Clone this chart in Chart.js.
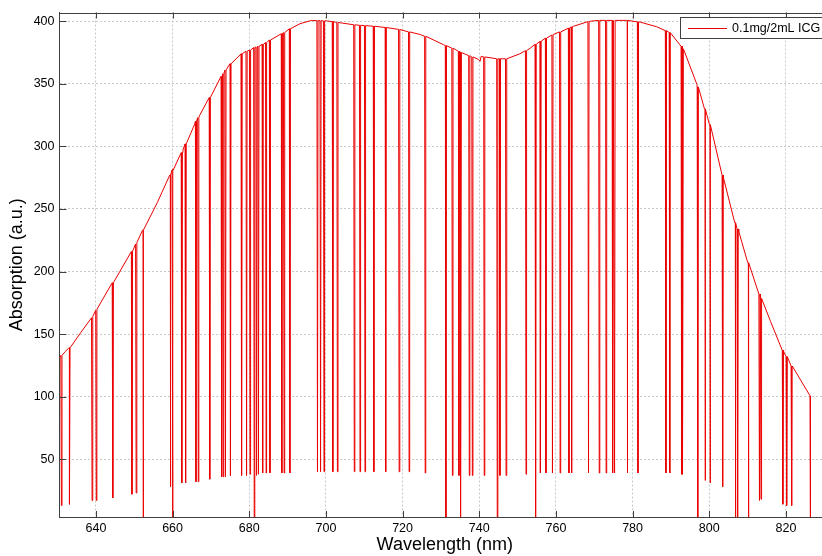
<!DOCTYPE html>
<html>
<head>
<meta charset="utf-8">
<title>ICG absorption</title>
<script src="https://cdn.jsdelivr.net/npm/chart.js@4"></script>
<style>
  html, body { margin: 0; padding: 0; background: #fff; overflow: hidden; }
  #wrap { position: relative; width: 832px; height: 556px; }
</style>
</head>
<body>
<div id="wrap"><canvas id="myChart"></canvas></div>
<script>
const legendLabel = "0.1mg/2mL ICG";

// smooth absorption curve (nm, a.u.)
const envWl = [630.5, 632, 633.1, 636, 639.2, 640.3, 644.4, 649.4, 650.7, 652.3, 656, 659.4, 660.1, 662.7,
  665.8, 667.1, 669.7, 672.8, 675, 677.6, 681, 684.5, 688.9, 693.2, 696, 700.2, 703.7, 708, 714.1, 719.3,
  724.6, 730.6, 735, 739.8, 740.2, 740.5, 744.6, 747.2, 750.6, 753.3, 755.9, 759.3, 764.6, 768.9, 771.5,
  778.6, 782, 786.3, 789.8, 792.8, 796.8, 798.9, 800.2, 803.7, 806.8, 807.7, 810.2, 813.3, 816, 819.4,
  820.7, 821.6, 826.3, 826.4];
const envAbs = [131, 136, 139, 151, 164, 170, 191, 216, 223, 233, 255, 277, 282, 297,
  318, 325, 339, 356, 366, 373, 378.5, 383, 391, 398, 400.5, 400.3, 398.8, 397, 395.5, 393.4,
  389.4, 381.4, 375.5, 369.5, 368, 372, 370, 370, 374, 378.5, 384, 389.4, 396, 400, 400.7,
  400.7, 399.3, 395.6, 391, 380, 349.4, 330, 317.4, 275, 239, 232, 207, 180, 160, 136,
  129.4, 124, 100.6, 0];

// dropouts: wavelength, value just before the drop, value at the bottom
const dropWl = [631.0, 633.1, 639.0, 640.1, 644.4, 649.4, 650.5, 652.3, 659.4, 660.0, 662.4, 663.4, 666.1,
  666.7, 669.7, 672.8, 673.2, 673.8, 675.1, 678.0, 679.3, 680.2, 681.3, 681.9, 682.4, 683.5, 684.4, 685.4,
  688.5, 689.1, 690.6, 697.8, 698.6, 699.5, 701.8, 703.0, 707.4, 708.9, 710.2, 712.5, 715.6, 719.1, 721.7,
  725.9, 731.3, 733.0, 734.7, 735.2, 737.4, 738.2, 741.3, 744.7, 745.4, 747.0, 752.2, 754.7, 756.0, 757.4,
  759.1, 761.1, 763.4, 764.1, 768.5, 771.3, 773.1, 774.8, 775.3, 778.6, 781.4, 788.7, 789.7, 792.8, 793.1,
  797.0, 798.9, 800.2, 803.5, 806.8, 807.4, 810.2, 813.1, 813.5, 819.2, 820.2, 821.5];
const dropTop = [133, 139, 163, 169, 191, 216, 222, 233, 277, 281, 295, 302, 320,
  323, 339, 356, 358, 361, 366, 374, 376, 377, 379, 379.5, 380, 381.5, 383, 385,
  390, 391, 394, 400.5, 400.5, 400.3, 399.7, 399, 397.2, 396.8, 396.5, 396, 395, 393.5, 391.5,
  388, 380.5, 378.5, 376, 375, 372.5, 371.5, 371.5, 370, 370, 370, 376.5, 381.5, 384, 386.5,
  389, 391.5, 394.5, 395.5, 399.7, 400.7, 400.7, 400.7, 400.7, 400.7, 399.5, 392.5, 391, 380, 378,
  347.5, 330, 317.4, 277, 239, 234, 207, 182, 178.5, 137, 132, 124.5];
const dropLow = [13, 14, 17, 17, 19, 22, 23, 0, 28, 0, 31, 31, 32,
  32, 34, 36, 36, 36, 37, 37, 37, 38, 3, 37, 38, 39, 39, 39,
  39, 39, 39, 40, 40, 40, 40, 40, 40, 40, 40, 40, 40, 40, 40,
  39, 0, 37, 37, 0, 37, 37, 37, 0, 37, 37, 38, 0, 39, 39,
  39, 39, 39, 39, 39, 39, 39, 39, 39, 39, 39, 39, 39, 38, 38,
  0, 33, 31, 28, 0, 0, 0, 17, 18, 14, 13, 13];

const xTicks = [640, 660, 680, 700, 720, 740, 760, 780, 800, 820];
const yTicks = [50, 100, 150, 200, 250, 300, 350, 400];

const axisColor = "#404040";
const fontFamily = '"Liberation Sans", Arial, sans-serif';

// merge curve and dropouts into one trace sorted by wavelength
let points = envWl.map((w, i) => ({ x: w, y: envAbs[i] }));
dropWl.forEach((w, i) => {
  points.push({ x: w - 0.15, y: dropTop[i] });
  points.push({ x: w, y: dropLow[i] });
  points.push({ x: w + 0.15, y: dropTop[i] });
});
points.sort((a, b) => a.x - b.x);

const framePlugin = {
  id: "frame",
  afterDraw(chart) {
    const { ctx, chartArea: a, scales } = chart;
    ctx.save();
    ctx.strokeStyle = axisColor;
    ctx.lineWidth = 1;
    ctx.beginPath();
    ctx.moveTo(a.left, Math.round(a.top) + 0.5);
    ctx.lineTo(a.right, Math.round(a.top) + 0.5);
    ctx.moveTo(Math.round(a.right) - 0.5, a.top);
    ctx.lineTo(Math.round(a.right) - 0.5, a.bottom);
    xTicks.forEach((v) => {
      const x = Math.round(scales.x.getPixelForValue(v)) + 0.5;
      ctx.moveTo(x, a.bottom);
      ctx.lineTo(x, a.bottom - 6);
      ctx.moveTo(x, a.top);
      ctx.lineTo(x, a.top + 6);
    });
    yTicks.forEach((v) => {
      const y = Math.round(scales.y.getPixelForValue(v)) + 0.5;
      ctx.moveTo(a.left, y);
      ctx.lineTo(a.left + 7, y);
      ctx.moveTo(a.right, y);
      ctx.lineTo(a.right - 7, y);
    });
    ctx.stroke();

    // legend box in the top right corner
    const bx = 680.5, by = 17.5, bw = 160, bh = 21;
    ctx.fillStyle = "#fff";
    ctx.fillRect(bx, by, bw, bh);
    ctx.strokeRect(bx, by, bw, bh);
    ctx.strokeStyle = chart.data.datasets[0].borderColor;
    ctx.beginPath();
    ctx.moveTo(688, by + 11);
    ctx.lineTo(727, by + 11);
    ctx.stroke();
    ctx.fillStyle = "#000";
    ctx.font = "12.5px " + fontFamily;
    ctx.textBaseline = "middle";
    ctx.fillText(chart.data.datasets[0].label, 732, by + 11);
    ctx.restore();
  },
};

const ctx = document.getElementById("myChart").getContext("2d");

const myChart = new Chart(ctx, {
  type: "line",
  data: {
    datasets: [
      {
        label: legendLabel,
        data: points,
        borderColor: "rgb(235, 0, 0)",
        borderWidth: 1,
        pointRadius: 0,
        tension: 0,
        fill: false,
      },
    ],
  },
  options: {
    responsive: true,
    maintainAspectRatio: false,
    animation: false,
    layout: { padding: { top: 11, right: 2, left: 0, bottom: 0 } },
    plugins: {
      legend: { display: false },
      tooltip: { enabled: false },
    },
    scales: {
      x: {
        type: "linear",
        min: 630.5,
        max: 831.5,
        afterBuildTicks: (s) => { s.ticks = xTicks.map((v) => ({ value: v })); },
        afterFit: (s) => { s.height = 39; },
        ticks: {
          color: "#000",
          font: { family: fontFamily, size: 12.5 },
          padding: 4,
          maxRotation: 0,
          autoSkip: false,
        },
        grid: { color: "#c8c8c8", lineWidth: 1, drawTicks: false },
        border: { display: true, color: axisColor, width: 1, dash: [2, 2] },
        title: {
          display: true,
          text: "Wavelength (nm)",
          color: "#000",
          font: { family: fontFamily, size: 18 },
          padding: { top: 0, bottom: 0 },
        },
      },
      y: {
        type: "linear",
        min: 3.8,
        max: 407,
        afterBuildTicks: (s) => { s.ticks = yTicks.map((v) => ({ value: v })); },
        afterFit: (s) => { s.width = 59.5; },
        ticks: {
          color: "#000",
          font: { family: fontFamily, size: 12.5 },
          padding: 5,
        },
        grid: { color: "#c8c8c8", lineWidth: 1, drawTicks: false },
        border: { display: true, color: axisColor, width: 1, dash: [2, 2] },
        title: {
          display: true,
          text: "Absorption (a.u.)",
          color: "#000",
          font: { family: fontFamily, size: 18 },
          padding: { top: 6, bottom: 0 },
        },
      },
    },
  },
  plugins: [framePlugin],
});
</script>
</body>
</html>
